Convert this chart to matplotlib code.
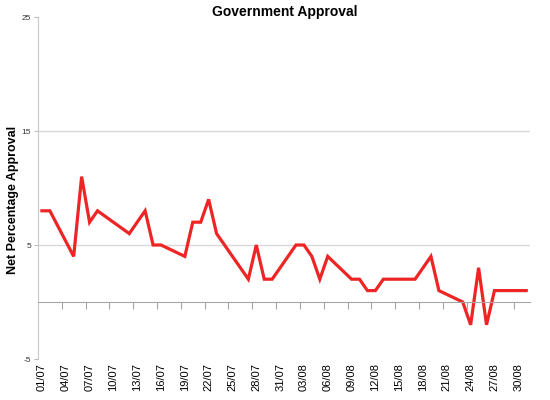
import matplotlib.pyplot as plt
import matplotlib.dates as mdates
import pandas as pd

# values (day of the period, net approval)
days = ["01/07", "02/07", "05/07", "06/07", "07/07", "08/07", "12/07", "14/07",
        "15/07", "16/07", "19/07", "20/07", "21/07", "22/07", "23/07", "27/07",
        "28/07", "29/07", "30/07", "02/08", "03/08", "04/08", "05/08", "06/08",
        "09/08", "10/08", "11/08", "12/08", "13/08", "17/08", "19/08", "20/08",
        "23/08", "24/08", "25/08", "26/08", "27/08", "31/08"]
approval = [8, 8, 4, 11, 7, 8, 6, 8,
            5, 5, 4, 7, 7, 9, 6, 2,
            5, 2, 2, 5, 5, 4, 2, 4,
            2, 2, 1, 1, 2, 2, 4, 1,
            0, -2, 3, -2, 1, 1]
tick_labels = ["01/07", "04/07", "07/07", "10/07", "13/07", "16/07", "19/07",
               "22/07", "25/07", "28/07", "31/07", "03/08", "06/08", "09/08",
               "12/08", "15/08", "18/08", "21/08", "24/08", "27/08", "30/08"]
y_ticks = [-5, 5, 15, 25]

dates = pd.to_datetime([d + "/2008" for d in days], format="%d/%m/%Y")
label_dates = pd.to_datetime([d + "/2008" for d in tick_labels], format="%d/%m/%Y")
half = pd.Timedelta(hours=12)
boundaries = [d + pd.Timedelta(days=2) + half for d in label_dates[:-1]]

plt.rcParams['font.family'] = ['Liberation Sans', 'DejaVu Sans']
plt.rcParams['axes.unicode_minus'] = False

fig = plt.figure(figsize=(5.5, 4), dpi=100)
ax = fig.add_axes([0.069, 0.1025, 0.895, 0.855])

ax.plot(dates, approval, color='#ee2524', linewidth=2.3, solid_joinstyle='miter')

start = pd.Timestamp("2008-07-01") - half
end = pd.Timestamp("2008-08-31") + half
ax.set_xlim(start, end)
ax.set_ylim(-5, 25)

# y axis
ax.set_yticks(y_ticks)
ax.tick_params(axis='y', labelsize=6, colors='#333333', length=3, color='#bbbbbb', pad=2)
ax.yaxis.grid(True, color='#d9d9d9', linewidth=1)
for line, v in zip(ax.yaxis.get_gridlines(), y_ticks):
    if v in (-5, 25):
        line.set_visible(False)
ax.set_axisbelow(True)

for s in ['top', 'right']:
    ax.spines[s].set_visible(False)
ax.spines['left'].set_color('#c8c8c8')
ax.spines['bottom'].set_position(('data', 0))
ax.spines['bottom'].set_color('#a6a6a6')

# tick marks on the zero line, between categories
ax.set_xticks(boundaries)
ax.xaxis.set_major_formatter(plt.NullFormatter())
ax.tick_params(axis='x', length=5, color='#a6a6a6', direction='out')

# date labels at the bottom of the plot area
sec = ax.secondary_xaxis(0)
sec.set_xticks(label_dates)
sec.xaxis.set_major_formatter(mdates.DateFormatter('%d/%m'))
sec.tick_params(axis='x', length=0, labelsize=8, rotation=90, pad=3)
sec.spines['bottom'].set_visible(False)

fig.text(0.024, 0.5, "Net Percentage Approval", rotation=90, ha='center', va='center',
         fontsize=9, fontweight='bold')
fig.text(0.517, 0.97, "Government Approval", ha='center', va='center',
         fontsize=10, fontweight='bold')

plt.savefig("out.png", dpi=100)
